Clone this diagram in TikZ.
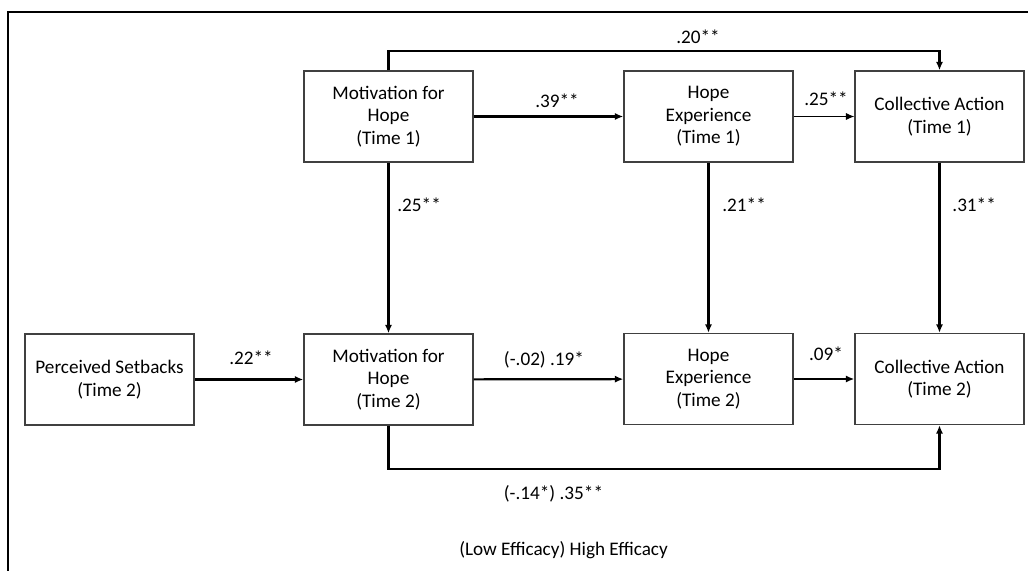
\documentclass[tikz,border=0pt]{standalone}
\usepackage{fontspec}
\setmainfont{Carlito}
\usetikzlibrary{arrows.meta}

\tikzset{
  var/.style={draw=black!75, line width=0.7pt, minimum width=84.5pt, minimum height=45.5pt,
    align=center, inner sep=0pt, font=\fontsize{9.6}{11.25}\selectfont},
  link/.style={line width=1.1pt, -{Latex[length=4.2pt,width=3.6pt]}},
  coef/.style={inner sep=0pt, font=\fontsize{9.6}{11.25}\selectfont},
}

\begin{document}
\begin{tikzpicture}[x=0.5pt,y=-0.5pt]
  \useasboundingbox (0,0) rectangle (1028,571);
  \draw[line width=1.4pt] (8,571) -- (8,12) -- (1028,12);

  % time 1
  \node[var] (mh1) at (388.5,116.5) {Motivation for\\Hope\\(Time 1)};
  \node[var] (he1) at (708.5,116.5) {Hope\\Experience\\(Time 1)};
  \node[var] (ca1) at (939.5,116.5) {Collective Action\\(Time 1)};
  % time 2
  \node[var] (ps2) at (109.5,379.5) {Perceived Setbacks\\(Time 2)};
  \node[var] (mh2) at (388.5,379.5) {Motivation for\\Hope\\(Time 2)};
  \node[var] (he2) at (708.5,379) {Hope\\Experience\\(Time 2)};
  \node[var] (ca2) at (939.5,379) {Collective Action\\(Time 2)};

  % paths
  \draw[link] (mh1.north) -- ++(0,-19) -| (ca1.north);
  \draw[link] (mh1) -- (he1);
  \draw[link, line width=0.5pt] (he1) -- (ca1);
  \draw[link] (mh1) -- (mh2);
  \draw[link] (he1) -- (he2);
  \draw[link] (ca1) -- (ca2);
  \draw[link] (ps2) -- (mh2);
  \draw[link] (mh2) -- (he2);
  \draw[link] (he2) -- (ca2);
  \draw[link] (mh2.south) -- ++(0,43) -| (ca2.south);

  % coefficients
  \node[coef] (c1) at (698,37) {.20**};
  \node[coef] (c2) at (557,101) {.39**};
  \node[coef] (c3) at (826,99) {.25**};
  \node[coef, anchor=west] (c4) at (397,205) {.25**};
  \node[coef, anchor=west] (c5) at (722,205) {.21**};
  \node[coef, anchor=west] (c6) at (952,205) {.31**};
  \node[coef] (c7) at (251,358) {.22**};
  \node[coef] (c8) at (544,360) {(-.02) .19*};
  \node[coef] (c9) at (826,354) {.09*};
  \node[coef] (c10) at (553.5,494) {(-.14*) .35**};
  \node[coef] (note) at (563.5,550) {(Low Efficacy) High Efficacy};
\end{tikzpicture}
\end{document}
